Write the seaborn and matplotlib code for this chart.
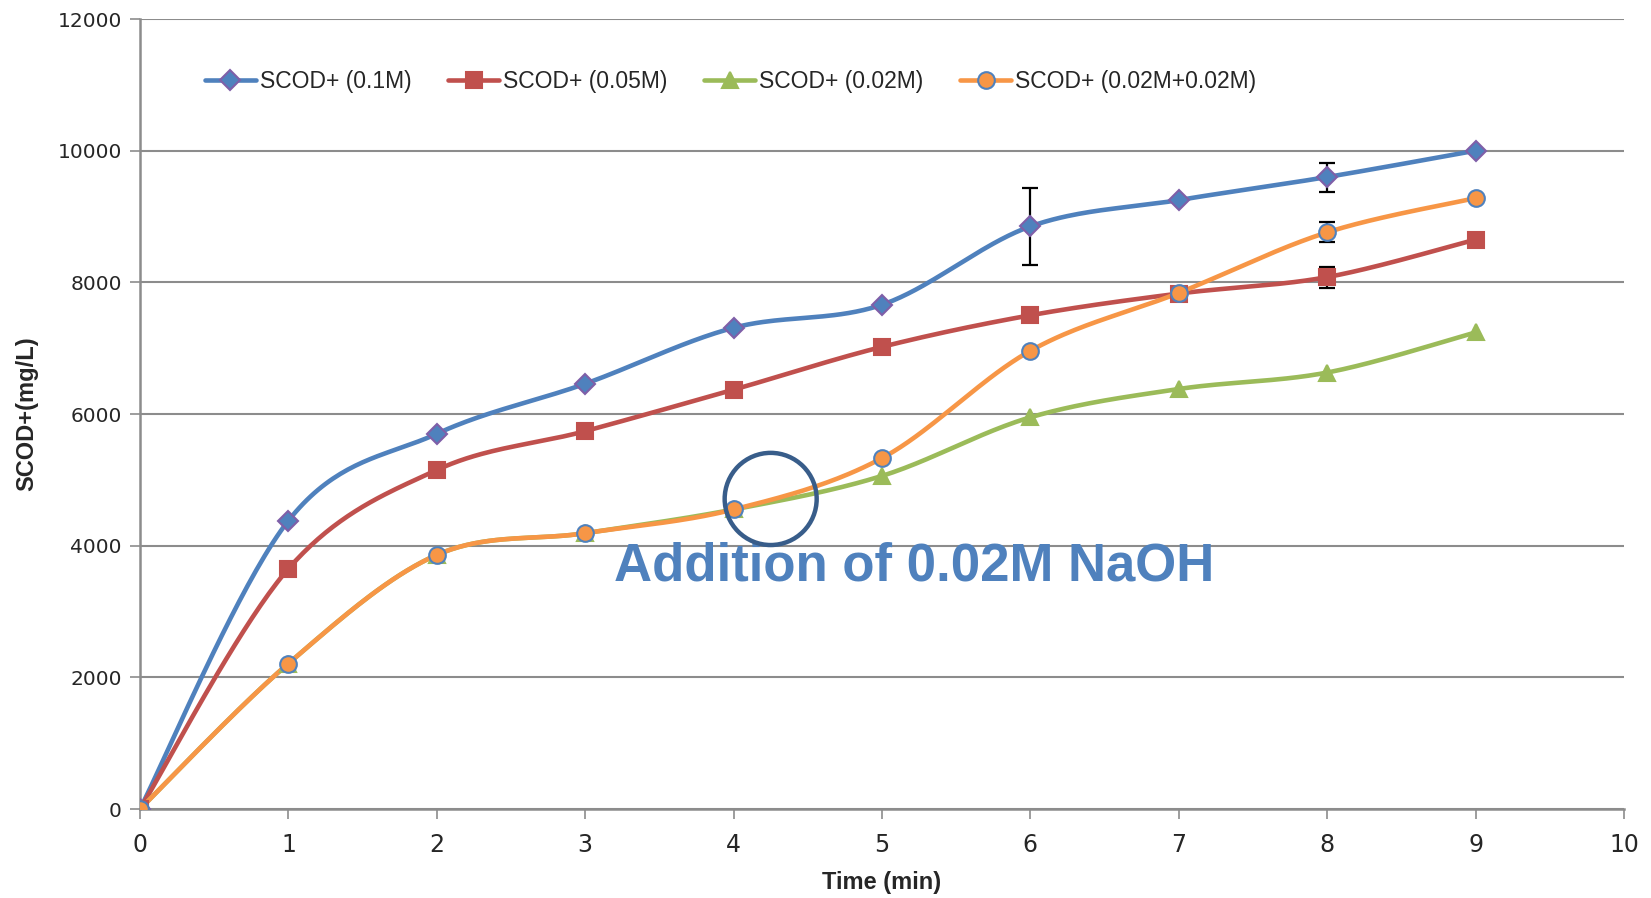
import numpy as np
import pandas as pd
import matplotlib
matplotlib.use("Agg")
import matplotlib.pyplot as plt
import seaborn as sns
from matplotlib.lines import Line2D
from matplotlib.patches import Ellipse

# ---- data ----
time_min = [0, 1, 2, 3, 4, 5, 6, 7, 8, 9]
scod_01M = [0, 4380, 5700, 6460, 7310, 7660, 8850, 9250, 9600, 10000]
scod_005M = [0, 3650, 5150, 5740, 6370, 7020, 7500, 7830, 8080, 8650]
scod_002M = [0, 2210, 3860, 4190, 4550, 5060, 5950, 6380, 6630, 7240]
scod_002M_002M = [0, 2210, 3860, 4190, 4550, 5330, 6960, 7840, 8760, 9280]
series_names = ["SCOD+ (0.1M)", "SCOD+ (0.05M)", "SCOD+ (0.02M)", "SCOD+ (0.02M+0.02M)"]
# error bars (x, value, +/-)
err_01M = {6: 580, 8: 220}
err_005M = {8: 160}
err_002M_002M = {8: 150}
annotation_text = "Addition of 0.02M NaOH"
x_ticks = list(range(0, 11))
y_ticks = list(range(0, 12001, 2000))


def smooth(x, y, n=40):
    P = np.column_stack([np.asarray(x, float), np.asarray(y, float)])
    out = []
    m = len(P)
    for i in range(m - 1):
        p0 = P[i - 1] if i > 0 else P[i]
        p1, p2 = P[i], P[i + 1]
        p3 = P[i + 2] if i + 2 < m else P[i + 1]
        c1 = p1 + (p2 - p0) / 6.0
        c2 = p2 - (p3 - p1) / 6.0
        t = np.linspace(0, 1, n, endpoint=(i == m - 2))[:, None]
        B = (1 - t) ** 3 * p1 + 3 * (1 - t) ** 2 * t * c1 + 3 * (1 - t) * t ** 2 * c2 + t ** 3 * p2
        out.append(B)
    B = np.vstack(out)
    return B[:, 0], B[:, 1]


sns.set_style("white")
plt.rcParams["font.family"] = ["Liberation Sans Narrow", "Liberation Sans", "DejaVu Sans"]

fig = plt.figure(figsize=(16.51, 8.98), dpi=100)
ax = fig.add_axes([0.0848, 0.0991, 0.8988, 0.8797])

styles = [
    dict(color="#4F81BD", marker="D", ms=10.5, mfc="#4F81BD", mec="#7F5FA8", series=scod_01M, err=err_01M),
    dict(color="#C0504D", marker="s", ms=12, mfc="#C0504D", mec="#C0504D", series=scod_005M, err=err_005M),
    dict(color="#9BBB59", marker="^", ms=12, mfc="#9BBB59", mec="#9BBB59", series=scod_002M, err={}),
    dict(color="#F79646", marker="o", ms=12, mfc="#F79646", mec="#4F81BD", series=scod_002M_002M, err=err_002M_002M),
]

handles = []
for k, (name, st) in enumerate(zip(series_names, styles)):
    sx, sy = smooth(time_min, st["series"])
    df = pd.DataFrame({"t": sx, "v": sy})
    sns.lineplot(data=df, x="t", y="v", ax=ax, color=st["color"], lw=3.3,
                 sort=False, estimator=None, zorder=3 + k * 0.1)
    ax.plot(time_min, st["series"], ls="none", marker=st["marker"], ms=st["ms"],
            mfc=st["mfc"], mec=st["mec"], mew=1.5, zorder=5 + k * 0.1)
    if st["err"]:
        ex = list(st["err"].keys())
        ey = [st["series"][time_min.index(e)] for e in ex]
        ee = list(st["err"].values())
        ax.errorbar(ex, ey, yerr=ee, fmt="none", ecolor="black", elinewidth=1.6,
                    capsize=6, capthick=1.6, zorder=4)
    handles.append(Line2D([0], [0], color=st["color"], lw=3.3, marker=st["marker"],
                          ms=st["ms"], mfc=st["mfc"], mec=st["mec"], mew=1.5))

ax.set_xlim(0, 10)
ax.set_ylim(0, 12000)
ax.set_xticks(x_ticks)
ax.set_yticks(y_ticks)
ax.set_xticklabels([str(v) for v in x_ticks], fontsize=17, family=["Liberation Sans Narrow", "DejaVu Sans"])
ax.set_yticklabels([str(v) for v in y_ticks], fontsize=14.5, family=["DejaVu Sans"])
ax.grid(axis="y", color="#8C8C8C", lw=1.5)
ax.grid(axis="x", visible=False)
for s in ["top", "right"]:
    ax.spines[s].set_visible(False)
for s in ["left", "bottom"]:
    ax.spines[s].set_color("#8C8C8C")
    ax.spines[s].set_linewidth(1.8)
ax.tick_params(axis="both", which="major", direction="out", length=7, width=1.2,
               color="#8C8C8C", bottom=True, left=True, pad=6)
ax.tick_params(axis="x", pad=10)
ax.set_xlabel("Time (min)", fontsize=17, fontweight="bold", labelpad=10)
ax.set_ylabel("SCOD+(mg/L)", fontsize=17, fontweight="bold", labelpad=14)

leg = ax.legend(handles, series_names, loc="upper left", bbox_to_anchor=(0.03, 0.962),
                ncol=4, frameon=False, fontsize=16.5, handlelength=2.2,
                columnspacing=1.6, handletextpad=0.2)

ax.text(5.215, 3680, annotation_text, ha="center", va="center", fontsize=38,
        fontweight="bold", color="#4F81BD", family=["Liberation Sans", "DejaVu Sans"], zorder=6)
ax.add_patch(Ellipse((4.25, 4710), width=0.62, height=1400, fill=False,
                     edgecolor="#385D8A", lw=3.2, zorder=7))

fig.savefig("out.png", dpi=100)
